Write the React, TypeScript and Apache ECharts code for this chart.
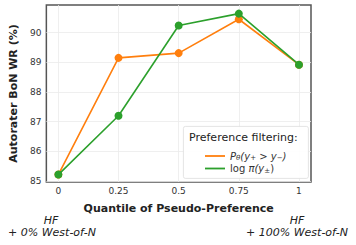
import React, { useEffect, useRef } from "react";
import * as echarts from "echarts";

const quantiles = [0, 0.25, 0.5, 0.75, 1];
const probFilter = [85.22, 89.15, 89.31, 90.45, 88.92];
const logpiFilter = [85.22, 87.2, 90.24, 90.64, 88.92];
const xTicks = [0, 0.25, 0.5, 0.75, 1];
const yTicks = [85, 86, 87, 88, 89, 90];
const seriesNames = ["prob", "logpi"];
const colors = ["#ff7f0e", "#2ca02c"];

const FONT = "DejaVu Sans";

export default function App() {
  const ref = useRef<HTMLDivElement>(null);
  useEffect(() => {
    const chart = echarts.init(ref.current!, null, { renderer: "svg" });
    chart.setOption({
      animation: false,
      textStyle: { fontFamily: FONT },
      grid: {
        left: 37,
        top: 5,
        right: 45,
        bottom: 63,
        show: true,
        borderColor: "#555",
        borderWidth: 1.5,
        backgroundColor: "#fff",
      },
      xAxis: {
        type: "value",
        min: -0.05,
        max: 1.05,
        name: "Quantile of Pseudo-Preference",
        nameLocation: "middle",
        nameGap: 21,
        nameTextStyle: { fontFamily: FONT, fontWeight: "bold", fontSize: 11, color: "#222" },
        axisLine: { show: false },
        axisTick: { show: false, customValues: xTicks },
        axisLabel: {
          customValues: xTicks,
          fontFamily: FONT,
          fontSize: 9,
          color: "#333",
          margin: 4,
          formatter: (v: number) => String(v),
        },
        splitLine: { show: true, lineStyle: { color: "#ebebeb", width: 0.8 } },
      },
      yAxis: {
        type: "value",
        min: 84.97,
        max: 90.93,
        name: "Autorater BoN WR (%)",
        nameLocation: "middle",
        nameGap: 22,
        nameTextStyle: { fontFamily: FONT, fontWeight: "bold", fontSize: 11, color: "#222" },
        axisLine: { show: false },
        axisTick: { show: false, customValues: yTicks },
        axisLabel: {
          customValues: yTicks,
          fontFamily: FONT,
          fontSize: 9,
          color: "#333",
          margin: 5,
        },
        splitLine: { show: true, lineStyle: { color: "#ebebeb", width: 0.8 } },
      },
      legend: {
        orient: "vertical",
        left: 200,
        top: 146,
        z: 20,
        icon: "rect",
        itemWidth: 20,
        itemHeight: 1.8,
        itemGap: 2,
        data: seriesNames,
        formatter: (name: string) =>
          name === "prob"
            ? "{i|P}{s|θ}{i|(y}{s|+}{i| > y}{s|−}{i|)}"
            : "{n|log }{i|π(y}{s|±}{n|)}",
        textStyle: {
          fontFamily: FONT,
          fontSize: 10,
          color: "#333",
          rich: {
            i: { fontFamily: FONT, fontStyle: "italic", fontSize: 10, color: "#333" },
            n: { fontFamily: FONT, fontSize: 10, color: "#333" },
            s: { fontFamily: FONT, fontStyle: "italic", fontSize: 7, color: "#333", verticalAlign: "bottom", padding: [4, 0, 0, 0] },
          },
        },
      },
      graphic: [
        {
          type: "rect",
          left: 183,
          top: 126,
          shape: { width: 125, height: 52, r: 2 },
          style: { fill: "rgba(255,255,255,0.9)", stroke: "#ddd", lineWidth: 0.8 },
          z: 1,
        },
        {
          type: "text",
          left: 189,
          top: 132,
          style: { text: "Preference filtering:", fontFamily: FONT, fontSize: 11, fill: "#222" },
          z: 2,
        },
        {
          type: "text",
          x: 51,
          y: 220,
          style: { text: "HF", fontFamily: FONT, fontStyle: "italic", fontSize: 11, fill: "#222", align: "center", verticalAlign: "middle" },
        },
        {
          type: "text",
          x: 52,
          y: 232,
          style: { text: "+ 0% West-of-N", fontFamily: FONT, fontStyle: "italic", fontSize: 11, fill: "#222", align: "center", verticalAlign: "middle" },
        },
        {
          type: "text",
          x: 297,
          y: 220,
          style: { text: "HF", fontFamily: FONT, fontStyle: "italic", fontSize: 11, fill: "#222", align: "center", verticalAlign: "middle" },
        },
        {
          type: "text",
          x: 297,
          y: 232,
          style: { text: "+ 100% West-of-N", fontFamily: FONT, fontStyle: "italic", fontSize: 11, fill: "#222", align: "center", verticalAlign: "middle" },
        },
      ],
      series: [
        {
          name: seriesNames[0],
          type: "line",
          data: quantiles.map((q, i) => [q, probFilter[i]]),
          color: colors[0],
          symbol: "circle",
          symbolSize: 8,
          lineStyle: { width: 1.6 },
          z: 2,
        },
        {
          name: seriesNames[1],
          type: "line",
          data: quantiles.map((q, i) => [q, logpiFilter[i]]),
          color: colors[1],
          symbol: "circle",
          symbolSize: 8,
          lineStyle: { width: 1.6 },
          z: 3,
        },
      ],
    });
    return () => chart.dispose();
  }, []);
  return <div ref={ref} style={{ width: 356, height: 245, position: "absolute", left: 0, top: 0 }} />;
}
